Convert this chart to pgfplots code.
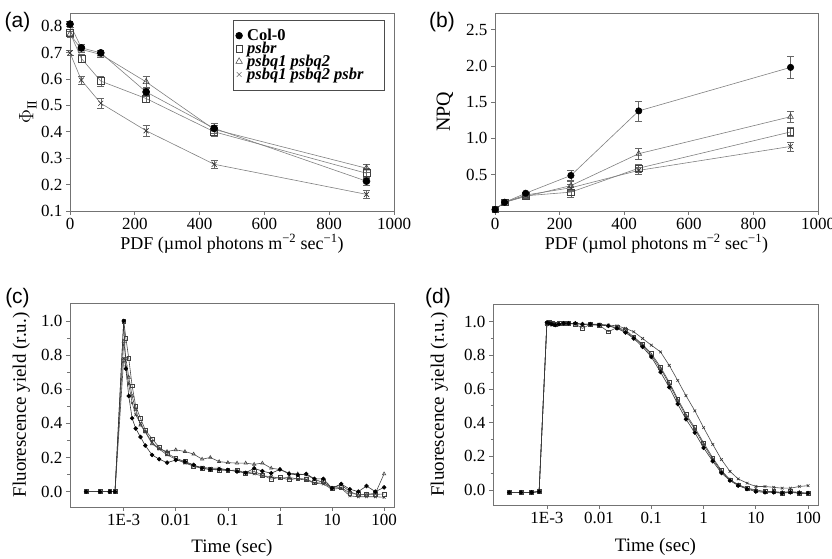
\documentclass[border=0pt]{standalone}
\usepackage{fontspec}
\setmainfont{Liberation Serif}
\newfontfamily\panelfont{Liberation Sans}
\usepackage{pgfplots}
\pgfplotsset{compat=1.18}
\usepackage{pgfplotstable}

% (c) fluorescence decay after single flash
\pgfplotstableread{
t       col    psbr    q      qr
1.9e-4  0      0       0      0
3.5e-4  0      0       0      0
5.4e-4  0      0       0      0
6.8e-4  0      0       0      0
1.0e-3  1.00   1.00    0.88   0.78
1.1e-3  0.72   0.90    0.78   0.73
1.25e-3 0.56   0.78    0.67   0.63
1.45e-3 0.43   0.62    0.56   0.52
1.7e-3  0.37   0.50    0.48   0.45
2.1e-3  0.32   0.43    0.39   0.40
2.6e-3  0.27   0.36    0.35   0.35
3.5e-3  0.215  0.31    0.28   0.29
4.8e-3  0.19   0.26    0.25   0.25
6.8e-3  0.17   0.225   0.235  0.215
0.01    0.185  0.196   0.245  0.19
0.015   0.176  0.176   0.235  0.167
0.022   0.157  0.147   0.22   0.15
0.032   0.137  0.137   0.19   0.143
0.046   0.13   0.13    0.20   0.137
0.068   0.13   0.127   0.176  0.137
0.1     0.127  0.123   0.17   0.127
0.15    0.118  0.127   0.167  0.12
0.22    0.11   0.108   0.167  0.11
0.32    0.137  0.118   0.16   0.104
0.46    0.12   0.098   0.167  0.092
0.68    0.108  0.073   0.137  0.088
1       0.13   0.084   0.13   0.078
1.5     0.104  0.069   0.108  0.084
2.2     0.098  0.078   0.104  0.073
3.2     0.104  0.073   0.098  0.069
4.6     0.075  0.053   0.073  0.049
6.8     0.075  0.059   0.053  0.045
10      0.02   0.02    0.02   0.014
15      0.045  0.025   0.04   0.02
22      0.014  -0.01   0.0    -0.025
32      0.0    -0.016  -0.02  -0.03
46      0.033  -0.016  -0.016 -0.03
68      0.0    -0.016  -0.01  -0.03
100     0.025  -0.014  0.104  -0.033
}\tabC

% (d) fluorescence decay in DCMU
\pgfplotstableread{
t       col    psbr    q      qr
1.9e-4  -0.015 -0.015  -0.015 -0.015
3.2e-4  -0.015 -0.015  -0.015 -0.015
5.1e-4  -0.015 -0.015  -0.015 -0.015
7.1e-4  -0.01  -0.01   -0.01  -0.01
1.0e-3  0.995  0.99    0.99   0.99
1.1e-3  0.99   0.995   0.99   0.985
1.25e-3 0.985  0.99    0.985  0.98
1.45e-3 0.98   0.985   0.985  0.98
1.7e-3  0.985  0.99    0.985  0.985
2.1e-3  0.99   0.99    0.99   0.985
2.6e-3  0.99   0.99    0.99   0.99
3.5e-3  0.99   0.985   0.99   0.985
4.8e-3  0.985  0.96    0.985  0.985
6.8e-3  0.985  0.985   0.98   0.985
0.01    0.98   0.98    0.98   0.985
0.015   0.975  0.94    0.975  0.98
0.022   0.96   0.965   0.965  0.975
0.032   0.935  0.95    0.94   0.96
0.046   0.90   0.91    0.905  0.94
0.068   0.85   0.865   0.86   0.90
0.1     0.79   0.81    0.80   0.86
0.15    0.70   0.73    0.72   0.82
0.22    0.61   0.64    0.63   0.74
0.32    0.51   0.54    0.53   0.65
0.46    0.42   0.45    0.44   0.56
0.68    0.34   0.37    0.36   0.47
1       0.25   0.28    0.27   0.37
1.5     0.17   0.19    0.18   0.27
2.2     0.10   0.115   0.11   0.18
3.2     0.055  0.06    0.06   0.11
4.6     0.025  0.03    0.03   0.065
6.8     0.005  0.01    0.01   0.04
10      -0.01  -0.005  0.0    0.02
15      -0.015 -0.01   -0.01  0.02
22      -0.015 -0.01   -0.01  0.015
32      -0.02  -0.02   -0.015 0.01
46      -0.015 -0.01   -0.01  0.01
68      -0.02  -0.02   -0.015 0.02
100     -0.02  -0.02   -0.02  0.025
}\tabD

\colorlet{frame}{black!55}
\colorlet{curve}{black!50}

\pgfplotsset{
  panel/.style={
    scale only axis,
    axis line style={frame, line width=0.7pt},
    tick style={frame, line width=0.7pt},
    tick align=outside, tick pos=left,
    major tick length=4pt, minor tick length=2.5pt,
    tick label style={font=\fontsize{17}{19}\selectfont},
    label style={font=\fontsize{19}{21}\selectfont},
    /pgf/number format/assume math mode=true,
    /pgf/number format/1000 sep={},
    clip=false,
  },
  dose/.style={
    xmin=0, xmax=1000, xtick={0,200,400,600,800,1000},
    xlabel={PDF (µmol photons m\textsuperscript{−2} sec\textsuperscript{−1})},
    xlabel style={at={(axis description cs:0.5,-0.165)}, anchor=center, font=\fontsize{18}{20}\selectfont},
    yticklabel style={/pgf/number format/.cd, fixed, fixed zerofill, precision=1},
  },
  eb/.style={
    error bars/y dir=both, error bars/y explicit,
    error bars/error bar style={black!60, line width=0.5pt},
    error bars/error mark options={rotate=90, black!60, line width=0.5pt, mark size=3.5pt},
  },
  kin/.style={
    xmin=9.3e-5, xmax=155,
    xtick={0.001,0.01,0.1,1,10,100},
    xticklabels={1E-3,0.01,0.1,1,10,100},
    xminorticks=false,
    ymin=-0.09, ymax=1.105, ytick={0,0.2,0.4,0.6,0.8,1},
    minor y tick num=1,
    yticklabel style={/pgf/number format/.cd, fixed, fixed zerofill, precision=1},
    xlabel={Time (sec)},
    xlabel style={at={(axis description cs:0.5,-0.2)}, anchor=center},
    ylabel={Fluorescence yield (r.u.)},
  },
  sCol/.style={curve, line width=0.6pt, mark=*, mark options={draw=black, fill=black, solid}},
  sR/.style={curve, line width=0.6pt, mark=square, mark options={draw=black!75, fill=white, solid}},
  sQ/.style={curve, line width=0.6pt, mark=triangle, mark options={draw=black!75, fill=white, solid}},
  sQR/.style={curve, line width=0.6pt, mark=x, mark options={draw=black!80, solid}},
}

\begin{document}
\begin{tikzpicture}
\path[use as bounding box] (0pt,0pt) rectangle (832pt,559pt);

% ---- (a) PhiII vs light ----
\begin{axis}[panel, dose, at={(70pt,348pt)}, anchor=south west,
  width=324pt, height=198pt,
  ymin=0.1, ymax=0.85, ytick={0.1,0.2,0.3,0.4,0.5,0.6,0.7,0.8},
  ylabel={$\Phi_{\mathrm{II}}$},
  ylabel style={at={(axis description cs:-0.13,0.5)}, anchor=center, font=\fontsize{20}{22}\selectfont},
  mark size=3.5pt,
  legend style={at={(0.972,0.965)}, anchor=north east, draw=black!70, line width=0.5pt,
    font=\fontsize{16.5}{13}\selectfont\bfseries, inner xsep=1pt, inner ysep=7pt,
    row sep=-4pt},
  legend cell align=left,
  legend image code/.code={\path[draw=none, fill=none] (0pt,-0.5pt) rectangle (11pt,0.5pt);
    \draw[#1] plot coordinates {(5pt,0pt)};},
]
\addlegendimage{only marks, mark=*, mark options={draw=black, fill=black}, mark size=3.4pt}
\addlegendimage{only marks, mark=square, mark options={draw=black!75}, mark size=3.3pt}
\addlegendimage{only marks, mark=triangle, mark options={draw=black!75}, mark size=3.8pt}
\addlegendimage{only marks, mark=x, mark options={draw=black!75}, mark size=3.3pt}
\legend{Col-0, \textit{psbr}, \textit{psbq1 psbq2}, \textit{psbq1 psbq2 psbr}\hspace*{18pt}}

\addplot[sQR, eb, forget plot] coordinates {(0,0.699) +- (0,0.010) (35,0.596) +- (0,0.015) (95,0.508) +- (0,0.020)
  (235,0.404) +- (0,0.020) (445,0.277) +- (0,0.015) (915,0.163) +- (0,0.015)};
\addplot[sQ, eb, forget plot] coordinates {(0,0.770) +- (0,0.010) (35,0.712) +- (0,0.012) (95,0.693) +- (0,0.010)
  (235,0.589) +- (0,0.020) (445,0.409) +- (0,0.015) (915,0.262) +- (0,0.015)};
\addplot[sR, eb, forget plot] coordinates {(0,0.775) +- (0,0.012) (35,0.678) +- (0,0.015) (95,0.592) +- (0,0.018)
  (235,0.526) +- (0,0.015) (445,0.400) +- (0,0.015) (915,0.243) +- (0,0.020)};
\addplot[sCol, eb, forget plot] coordinates {(0,0.808) +- (0,0.012) (35,0.718) +- (0,0.015) (95,0.699) +- (0,0.010)
  (235,0.551) +- (0,0.015) (445,0.413) +- (0,0.020) (915,0.213) +- (0,0.015)};
\end{axis}

% ---- (b) NPQ vs light ----
\begin{axis}[panel, dose, at={(495pt,348pt)}, anchor=south west,
  width=323pt, height=198pt,
  ymin=0, ymax=2.73, ytick={0.5,1,1.5,2,2.5},
  ylabel={NPQ},
  ylabel style={at={(axis description cs:-0.155,0.5)}, anchor=center, font=\fontsize{20}{22}\selectfont},
  mark size=3.2pt,
]
\addplot[sQR, eb] coordinates {(0,0.02) (30,0.12) (95,0.22) +- (0,0.02)
  (235,0.32) +- (0,0.05) (445,0.56) +- (0,0.05) (915,0.89) +- (0,0.06)};
\addplot[sR, eb] coordinates {(0,0.02) (30,0.12) (95,0.21) +- (0,0.02)
  (235,0.26) +- (0,0.07) (445,0.59) +- (0,0.06) (915,1.09) +- (0,0.06)};
\addplot[sQ, eb] coordinates {(0,0.02) (30,0.12) (95,0.20) +- (0,0.02)
  (235,0.35) +- (0,0.06) (445,0.79) +- (0,0.07) (915,1.30) +- (0,0.07)};
\addplot[sCol, eb] coordinates {(0,0.02) (30,0.12) (95,0.245) +- (0,0.02)
  (235,0.49) +- (0,0.07) (445,1.38) +- (0,0.14) (915,1.98) +- (0,0.15)};
\end{axis}

% ---- (c) flash-induced fluorescence decay ----
\begin{semilogxaxis}[panel, kin, at={(70pt,52pt)}, anchor=south west,
  width=324pt, height=204pt,
  ylabel style={at={(axis description cs:-0.15,0.5)}, anchor=center},
  mark size=1.9pt,
]
\addplot[sQR, black!70] table[x=t, y=qr] {\tabC};
\addplot[sQ, black!70] table[x=t, y=q] {\tabC};
\addplot[sR, black!70] table[x=t, y=psbr] {\tabC};
\addplot[sCol, black!80] table[x=t, y=col] {\tabC};
\end{semilogxaxis}

% ---- (d) decay in presence of DCMU ----
\begin{semilogxaxis}[panel, kin, at={(493pt,54pt)}, anchor=south west,
  width=325pt, height=201pt,
  ylabel style={at={(axis description cs:-0.165,0.5)}, anchor=center},
  xlabel style={at={(axis description cs:0.5,-0.21)}},
  mark size=1.9pt,
]
\addplot[sQR, black!70] table[x=t, y=qr] {\tabD};
\addplot[sQ, black!70] table[x=t, y=q] {\tabD};
\addplot[sR, black!70] table[x=t, y=psbr] {\tabD};
\addplot[sCol, black!80] table[x=t, y=col] {\tabD};
\end{semilogxaxis}

% panel letters
\node[font=\panelfont\fontsize{21}{21}\selectfont] at (17.5pt,537pt) {(a)};
\node[font=\panelfont\fontsize{21}{21}\selectfont] at (442pt,537pt) {(b)};
\node[font=\panelfont\fontsize{21}{21}\selectfont] at (17.5pt,261pt) {(c)};
\node[font=\panelfont\fontsize{21}{21}\selectfont] at (438pt,261pt) {(d)};
\end{tikzpicture}
\end{document}
